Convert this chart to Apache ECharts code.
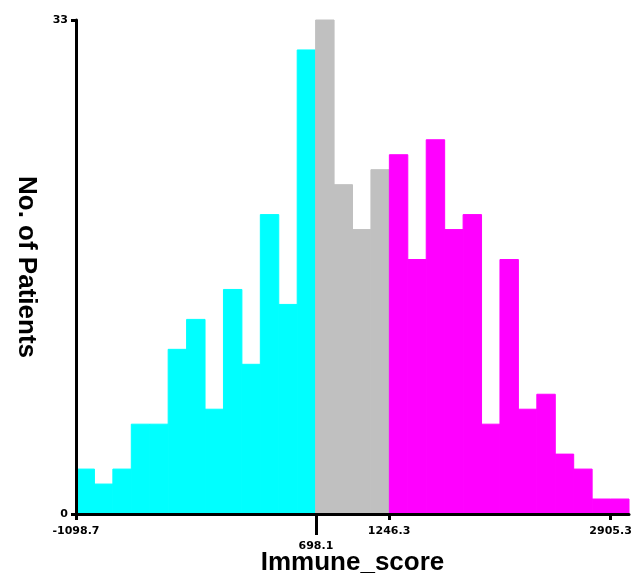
<!DOCTYPE html>
<html><head><meta charset="utf-8">
<script src="https://cdn.jsdelivr.net/npm/echarts@6/dist/echarts.min.js"></script>
<style>html,body{margin:0;padding:0;background:#fff}#c{width:636px;height:576px}</style>
</head><body><div id="c"></div>
<script>
// ---- data ----
var binStart = -1098.7;
var binWidth = 138.07;
var lowCounts  = [3, 2, 3, 6, 6, 11, 13, 7, 15, 10, 20, 14, 31];
var midCounts  = [33, 22, 19, 23];
var highCounts = [24, 17, 25, 19, 20, 6, 17, 7, 8, 4, 3, 1, 1];
var xTickValues = [-1098.7, 1246.3, 2905.3];
var xCutValues = [698.1];
var yMax = 33;
var xTitle = 'Immune_score';
var yTitle = 'No. of Patients';

// ---- build bins ----
function buildBins(counts, startIndex) {
  return counts.map(function (c, i) {
    var k = startIndex + i;
    return [binStart + k * binWidth, binStart + (k + 1) * binWidth, c];
  });
}
var lowData = buildBins(lowCounts, 0);
var midData = buildBins(midCounts, lowCounts.length);
var highData = buildBins(highCounts, lowCounts.length + midCounts.length);
var totalBins = lowCounts.length + midCounts.length + highCounts.length;
var xMax = binStart + totalBins * binWidth;

function renderBar(params, api) {
  var p0 = api.coord([api.value(0), api.value(2)]);
  var p1 = api.coord([api.value(1), 0]);
  var fill = api.visual('color');
  return {
    type: 'rect',
    shape: { x: p0[0], y: p0[1], width: p1[0] - p0[0], height: p1[1] - p0[1] },
    style: { fill: fill, stroke: fill, lineWidth: 1 }
  };
}

var tickFont = { fontFamily: 'DejaVu Sans', fontWeight: 'bold', fontSize: 11, color: '#000' };
var titleFont = { fontFamily: 'Liberation Sans', fontWeight: 'bold', fontSize: 26, color: '#000' };

var chart = echarts.init(document.getElementById('c'), null, { renderer: 'canvas' });
chart.setOption({
  animation: false,
  backgroundColor: '#fff',
  grid: { left: 76, right: 7, top: 20, bottom: 62, containLabel: false, outerBoundsMode: 'none' },
  xAxis: [
    {
      type: 'value', min: binStart, max: xMax, position: 'bottom', z: 5,
      name: xTitle, nameLocation: 'middle', nameGap: 36, nameTextStyle: titleFont,
      splitLine: { show: false },
      axisLine: { show: true, onZero: false, lineStyle: { color: '#000', width: 3 } },
      axisTick: { show: true, customValues: xTickValues, length: 6, lineStyle: { color: '#000', width: 3 } },
      axisLabel: Object.assign({ show: true, customValues: xTickValues, margin: 12,
        formatter: function (v) { return String(v); } }, tickFont)
    },
    {
      type: 'value', min: binStart, max: xMax, position: 'bottom', z: 5,
      splitLine: { show: false },
      axisLine: { show: false, onZero: false },
      axisTick: { show: true, customValues: xCutValues, length: 21, lineStyle: { color: '#000', width: 3 } },
      axisLabel: Object.assign({ show: true, customValues: xCutValues, margin: 27,
        formatter: function (v) { return String(v); } }, tickFont)
    }
  ],
  yAxis: {
    type: 'value', min: 0, max: yMax, interval: yMax, z: 5,
    name: yTitle, nameLocation: 'middle', nameRotate: -90, nameGap: 37, nameTextStyle: titleFont,
    splitLine: { show: false },
    axisLine: { show: true, onZero: false, lineStyle: { color: '#000', width: 3 } },
    axisTick: { show: true, length: 5, lineStyle: { color: '#000', width: 3 } },
    axisLabel: Object.assign({ margin: 8 }, tickFont)
  },
  series: [
    { type: 'custom', xAxisIndex: 0, renderItem: renderBar, itemStyle: { color: '#00FFFF' },
      encode: { x: [0, 1], y: 2 }, data: lowData, z: 1 },
    { type: 'custom', xAxisIndex: 0, renderItem: renderBar, itemStyle: { color: '#C0C0C0' },
      encode: { x: [0, 1], y: 2 }, data: midData, z: 1 },
    { type: 'custom', xAxisIndex: 0, renderItem: renderBar, itemStyle: { color: '#FF00FF' },
      encode: { x: [0, 1], y: 2 }, data: highData, z: 1 }
  ]
});
</script>
</body></html>
